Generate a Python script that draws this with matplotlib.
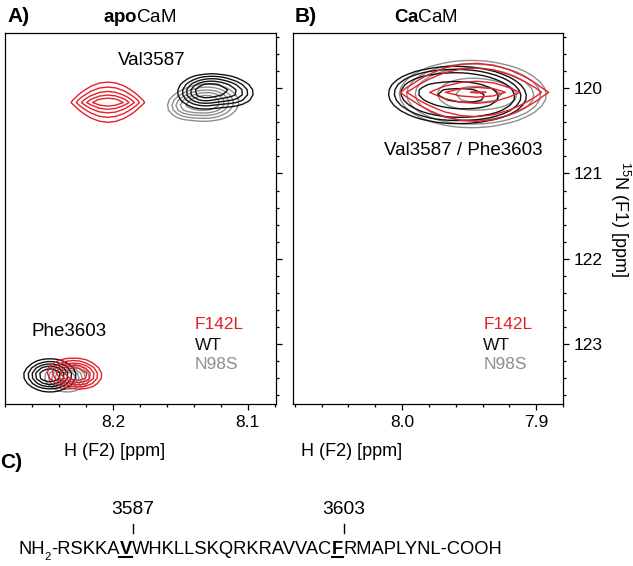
import numpy as np
import matplotlib
matplotlib.use("Agg")
import matplotlib.pyplot as plt
from matplotlib.ticker import MultipleLocator, FormatStrFormatter
from matplotlib.lines import Line2D

plt.rcParams['font.family'] = ['Liberation Sans', 'DejaVu Sans']
plt.rcParams['mathtext.fontset'] = 'custom'
plt.rcParams['mathtext.rm'] = 'Liberation Sans'
plt.rcParams['mathtext.bf'] = 'Liberation Sans:bold'
plt.rcParams['mathtext.it'] = 'Liberation Sans:italic'

W, H = 633, 566
RED = '#e3202b'
BLACK = '#111111'
GRAY = '#8e8e8e'

# ---------------- data: peak components (x ppm, y ppm, sigma x, sigma y, amplitude)
apo_red_val = [(8.2037, 120.165, 0.0150, 0.143, 1.0)]
apo_red_phe = [(8.2296, 123.33, 0.0110, 0.098, 1.0),
               (8.2220, 123.40, 0.0080, 0.080, 0.4)]
apo_black_val = [(8.1330, 120.05, 0.0110, 0.110, 1.0),
                 (8.1100, 120.06, 0.0100, 0.100, 0.60),
                 (8.1220, 119.95, 0.0100, 0.080, 0.30)]
apo_black_phe = [(8.2467, 123.364, 0.0106, 0.105, 1.0)]
apo_gray_val = [(8.1300, 120.17, 0.0130, 0.120, 1.0),
                (8.1480, 120.22, 0.0080, 0.090, 0.35)]
apo_gray_phe = [(8.2340, 123.39, 0.0090, 0.090, 1.0)]
ca_red = [(7.9460, 120.05, 0.0307, 0.214, 1.0),
          (7.9330, 120.04, 0.0080, 0.060, 0.08)]
ca_black = [(7.9600, 120.08, 0.0280, 0.190, 1.0),
            (7.9350, 120.12, 0.0150, 0.120, 0.25),
            (7.9850, 120.02, 0.0120, 0.100, 0.15)]
ca_gray = [(7.9485, 120.07, 0.0300, 0.220, 1.0),
           (7.9200, 120.10, 0.0140, 0.120, 0.20)]
levels_gauss = [0.20, 0.33, 0.47, 0.62, 0.78]
levels_lens = [0.20, 0.30, 0.43, 0.58, 0.75]
levels_ca_red = [0.20, 0.26, 0.54, 0.76, 0.97]
levels_ca = [0.20, 0.27, 0.37, 0.68, 0.90]

xlim_a = (8.280, 8.079)
xlim_b = (8.0813, 7.880)
ylim = (123.70, 119.355)

legend_names = ['F142L', 'WT', 'N98S']
legend_colors = [RED, BLACK, GRAY]

seq_pieces = [("NH", "n"), ("2", "sub"), ("-RSKKA", "n"), ("V", "bu"),
              ("WHKLLSKQRKRAVVAC", "n"), ("F", "bu"), ("RMAPLYNL-COOH", "n")]
seq_marks = {"V": "3587", "F": "3603"}


def field(comps, xr, yr, dx, dy, lens=False):
    xs = np.arange(min(xr), max(xr) + dx, dx)
    ys = np.arange(min(yr), max(yr) + dy, dy)
    X, Y = np.meshgrid(xs, ys)
    Z = np.zeros_like(X)
    for cx, cy, sx, sy, a in comps:
        gx = np.exp(-0.5 * ((X - cx) / sx) ** 2)
        if lens:
            gy = np.exp(-np.abs(Y - cy) / sy)
        else:
            gy = np.exp(-0.5 * ((Y - cy) / sy) ** 2)
        Z += a * gx * gy
    return X, Y, Z / Z.max()


def draw_peaks(ax, comps, color, levels, dx, dy, xr, yr, lens=False, lw=1.0):
    X, Y, Z = field(comps, xr, yr, dx, dy, lens)
    ax.contour(X, Y, Z, levels=levels, colors=color, linewidths=lw)


fig = plt.figure(figsize=(W / 100, H / 100), dpi=100)

def axpos(l, t, r, b):
    return [l / W, 1 - b / H, (r - l) / W, (b - t) / H]

axA = fig.add_axes(axpos(5, 33, 276, 404))
axB = fig.add_axes(axpos(293, 33, 563, 404))

for ax, xl in ((axA, xlim_a), (axB, xlim_b)):
    ax.set_xlim(*xl)
    ax.set_ylim(*ylim)
    ax.xaxis.set_major_locator(MultipleLocator(0.1))
    ax.xaxis.set_minor_locator(MultipleLocator(0.02))
    ax.yaxis.set_major_locator(MultipleLocator(1))
    ax.yaxis.set_minor_locator(MultipleLocator(0.2))
    ax.yaxis.tick_right()
    ax.tick_params(which='major', direction='out', length=4, width=0.9, labelsize=12.5, pad=4)
    ax.tick_params(which='minor', direction='out', length=2.4, width=0.9)
    for s in ax.spines.values():
        s.set_linewidth(0.9)
    ax.xaxis.set_major_formatter(FormatStrFormatter('%.1f'))

axA.tick_params(axis='y', which='both', labelright=False)
axB.yaxis.set_major_formatter(FormatStrFormatter('%d'))

# apo panel
xrA = (8.30, 8.06)
draw_peaks(axA, apo_gray_val, GRAY, levels_gauss, 0.004, 0.06, xrA, (119.3, 121.0))
draw_peaks(axA, apo_gray_phe, GRAY, levels_gauss, 0.004, 0.06, xrA, (122.5, 123.8))
draw_peaks(axA, apo_black_val, BLACK, levels_gauss, 0.004, 0.06, xrA, (119.3, 121.0))
draw_peaks(axA, apo_black_phe, BLACK, levels_gauss, 0.004, 0.06, xrA, (122.5, 123.8))
draw_peaks(axA, apo_red_val, RED, levels_lens, 0.006, 0.03, xrA, (119.3, 121.0), lens=True)
draw_peaks(axA, apo_red_phe, RED, levels_gauss, 0.005, 0.06, xrA, (122.5, 123.8))
# Ca panel
xrB = (8.10, 7.86)
draw_peaks(axB, ca_gray, GRAY, levels_ca, 0.006, 0.07, xrB, (119.3, 121.0))
draw_peaks(axB, ca_black, BLACK, levels_ca, 0.005, 0.06, xrB, (119.3, 121.0))
draw_peaks(axB, ca_red, RED, levels_ca_red, 0.012, 0.05, xrB, (119.3, 121.0), lens=True)

axA.text(8.171, 119.68, 'Val3587', ha='center', va='center', fontsize=13.5)
axA.text(8.2326, 122.85, 'Phe3603', ha='center', va='center', fontsize=13.5)
axB.text(7.9544, 120.727, 'Val3587 / Phe3603', ha='center', va='center', fontsize=13.5)

for ax, lx in ((axA, 8.1393), (axB, 7.9395)):
    for name, col, yy in zip(legend_names, legend_colors, (122.77, 123.01, 123.24)):
        ax.text(lx, yy, name, color=col, ha='left', va='center', fontsize=12.5)

# titles / labels
fig.text(7 / W, 1 - 17 / H, 'A)', fontsize=15, fontweight='bold', va='center', ha='left')
fig.text(295 / W, 1 - 17 / H, 'B)', fontsize=15, fontweight='bold', va='center', ha='left')
fig.text(0 / W, 1 - 462 / H, 'C)', fontsize=15, fontweight='bold', va='center', ha='left')
fig.text(140 / W, 1 - 17 / H, r'$\mathbf{apo}\mathrm{CaM}$', fontsize=13.5, ha='center', va='center')
fig.text(426 / W, 1 - 17 / H, r'$\mathbf{Ca}\mathrm{CaM}$', fontsize=13.5, ha='center', va='center')
fig.text(115 / W, 1 - 451 / H, 'H (F2) [ppm]', fontsize=13, ha='center', va='center')
fig.text(352 / W, 1 - 451 / H, 'H (F2) [ppm]', fontsize=13, ha='center', va='center')
fig.text(620 / W, 1 - 219 / H, r'$\mathrm{^{15}}$N (F1) [ppm]', fontsize=13, ha='center',
         va='center', rotation=-90)

# ---------------- sequence (panel C)
seq_family = ['Liberation Sans']
fig.canvas.draw()
r = fig.canvas.get_renderer()

def measure(fs):
    tot = 0
    for s, st in seq_pieces:
        t = fig.text(0, 0, s, fontsize=fs * (0.62 if st == 'sub' else 1), family=seq_family,
                     fontweight='bold' if st == 'bu' else 'normal')
        tot += t.get_window_extent(r).width
        t.remove()
    return tot

target = 502 - 18
fs = 14 * target / measure(14)
x = 18.0
base = 554.0
for s, st in seq_pieces:
    if st == 'sub':
        t = fig.text(x / W, 1 - (base + 6) / H, s, fontsize=fs * 0.62, va='baseline', ha='left',
                     family=seq_family)
    else:
        t = fig.text(x / W, 1 - base / H, s, fontsize=fs, va='baseline', ha='left',
                     family=seq_family, fontweight='bold' if st == 'bu' else 'normal')
    bb = t.get_window_extent(r)
    if st == 'bu':
        fig.add_artist(Line2D([bb.x0 / W, bb.x1 / W], [1 - (base + 2.5) / H] * 2,
                              color='black', lw=1.5, transform=fig.transFigure))
        xc = bb.x1 + 1
        fig.add_artist(Line2D([xc / W, xc / W], [1 - 524 / H, 1 - 533 / H],
                              color='black', lw=1.0, transform=fig.transFigure))
        fig.text(xc / W, 1 - 509 / H, seq_marks[s], fontsize=fs * 1.05, ha='center', va='center',
                 family=seq_family)
    x += bb.width

fig.savefig('out.png', dpi=100)
